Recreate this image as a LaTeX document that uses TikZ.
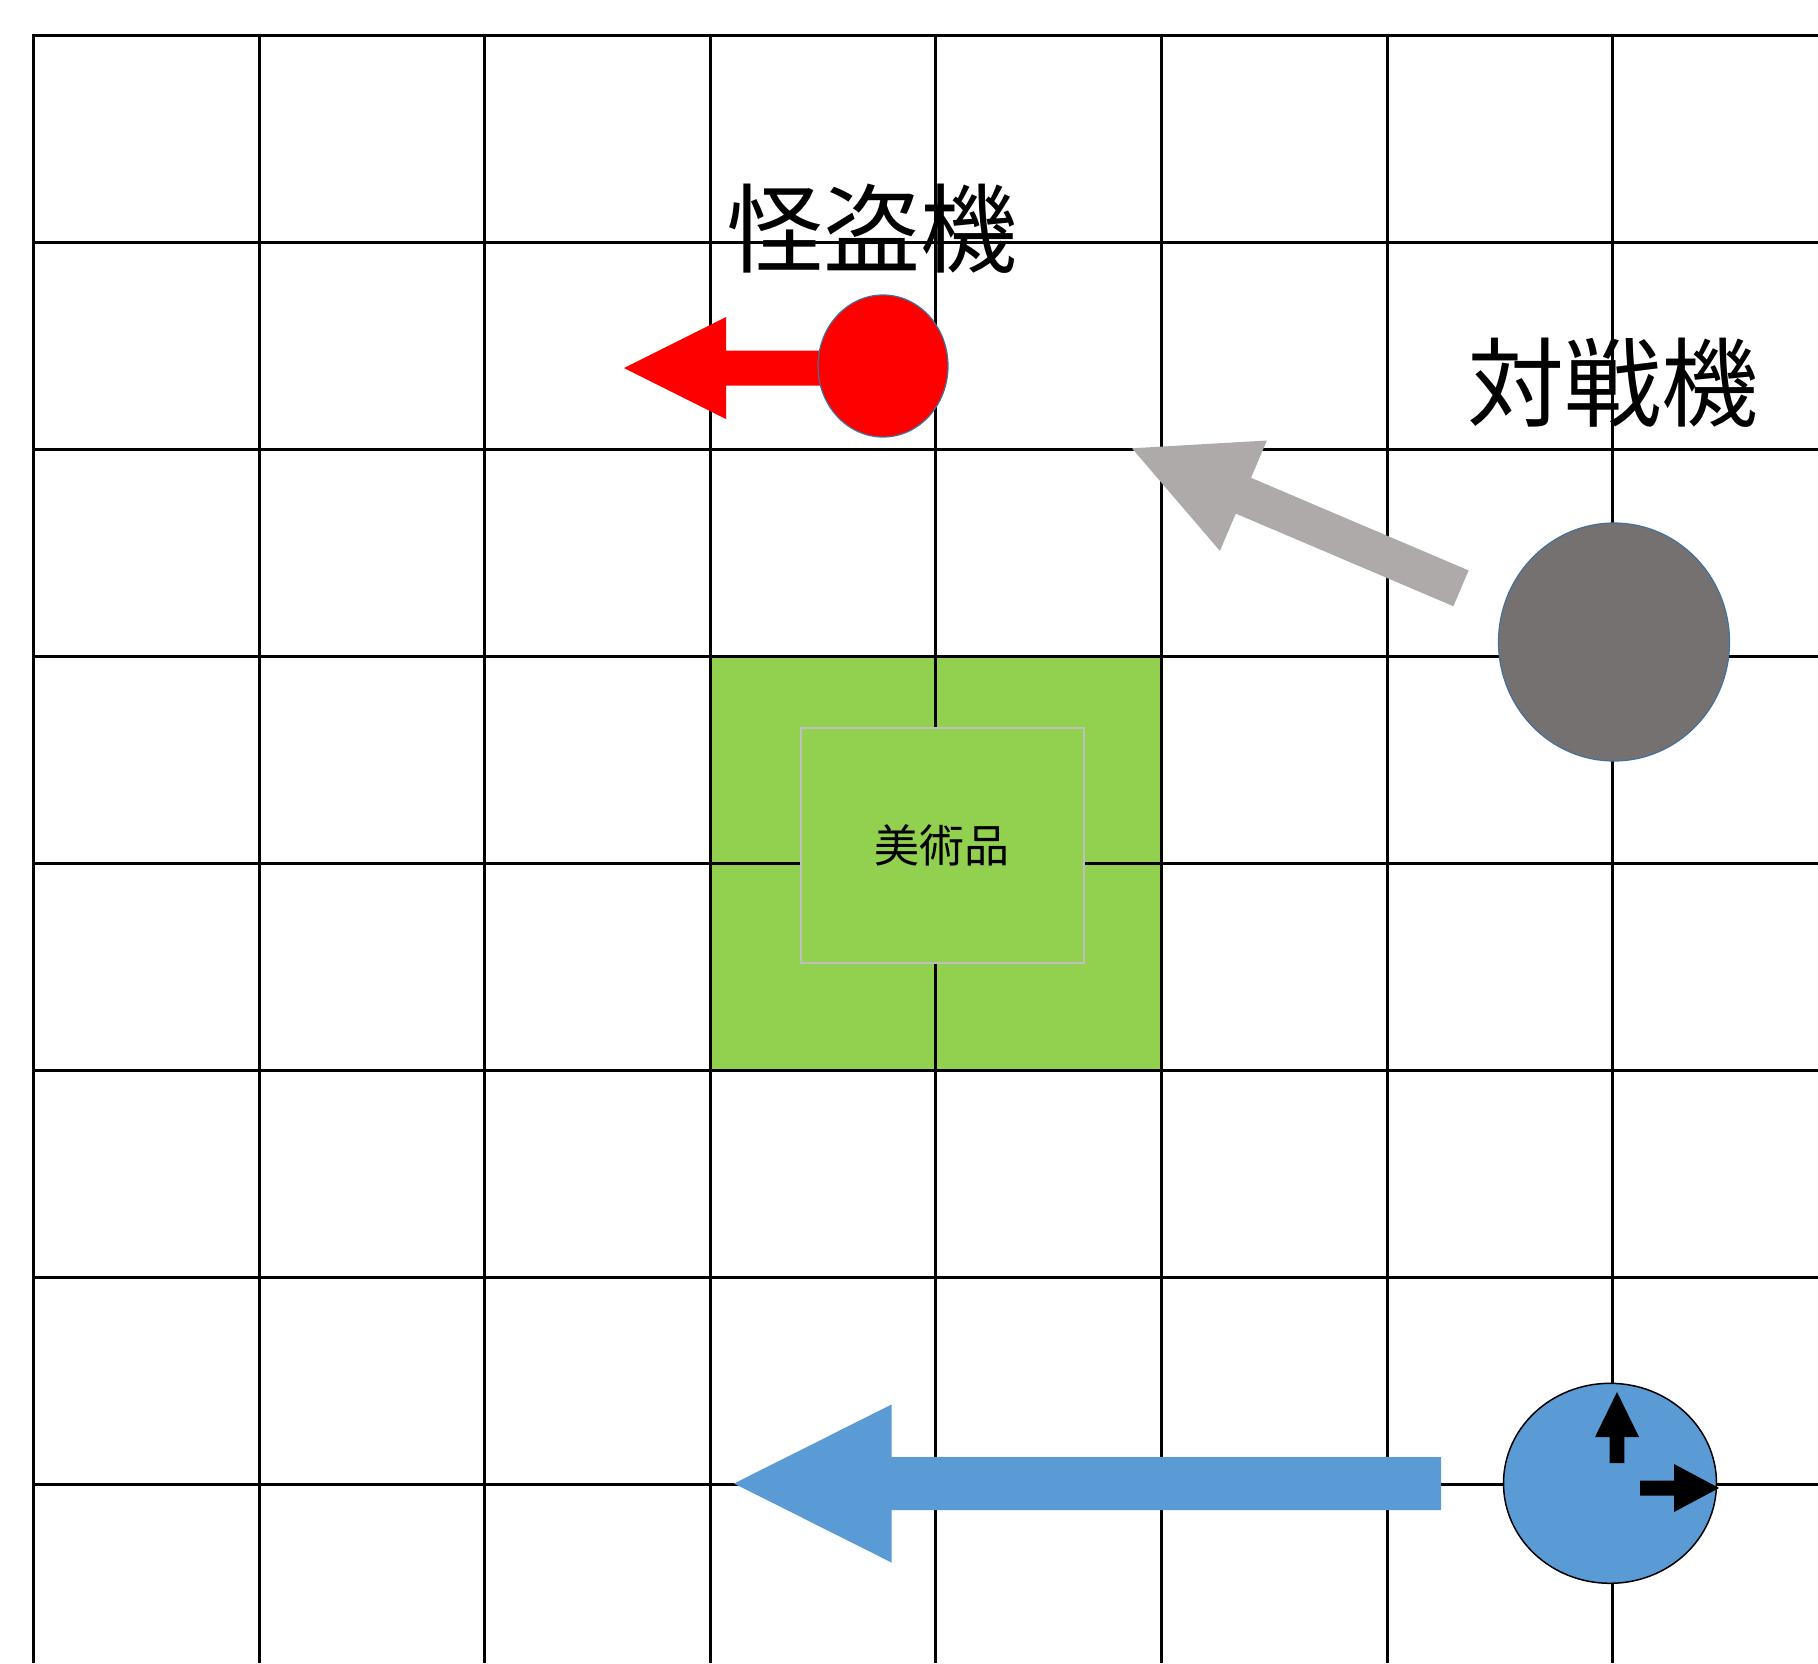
\documentclass[tikz,border=0pt]{standalone}
\usepackage{fontspec}
\newfontfamily\jp{Noto Sans CJK JP}
\usetikzlibrary{shapes.geometric}
\definecolor{grn}{HTML}{92D050}
\definecolor{boxgray}{HTML}{BFBFBF}
\definecolor{rimblue}{HTML}{41719C}
\definecolor{arrgray}{HTML}{AEAAAA}
\definecolor{dotgray}{HTML}{767171}
\definecolor{blu}{HTML}{5B9BD5}
\tikzset{
  gridline/.style={line width=3pt, black},
  token/.style={ellipse, inner sep=0pt, line width=1.2pt},
  biglabel/.style={inner sep=0pt, font=\fontsize{97}{97}\jp},
}
\begin{document}
\begin{tikzpicture}[x=1pt,y=-1pt]
\useasboundingbox (0,0) rectangle (1818,1663);
\fill[white] (0,0) rectangle (1818,1663);
% green area
\fill[grn] (710.3,656) rectangle (1161.5,1070);
% grid
\foreach \i in {0,...,7} \draw[gridline] (33.5+225.6*\i,35) -- (33.5+225.6*\i,1663);
\foreach \j in {0,...,7} \draw[gridline] (32,35+207*\j) -- (1818,35+207*\j);
% art box
\node[draw=boxgray, line width=2pt, fill=grn, minimum width=283pt, minimum height=235pt, inner sep=0pt] (art) at (942.4,845.6) {\fontsize{45}{45}\jp 美術品};
% red arrow and thief
\fill[red] (624,368) -- (726,317) -- (726,350.5) -- (840,350.5) -- (840,385.5) -- (726,385.5) -- (726,419) -- cycle;
\node[token, fill=red, draw=rimblue, minimum width=130pt, minimum height=142pt] (thief) at (883,366) {};
\node[biglabel] (thieflabel) at (872,229) {怪盗機};
% gray arrow and rival
\fill[arrgray] (1132,448.3) -- (1266.9,440.5) -- (1251.0,477.8) -- (1468.6,570.4) -- (1453.4,606.2) -- (1235.8,513.6) -- (1219.9,550.9) -- cycle;
\node[token, fill=dotgray, draw=rimblue, minimum width=231pt, minimum height=238pt] (rival) at (1614,642) {};
\node[biglabel] (rivallabel) at (1613,383) {対戦機};
% blue arrow and player
\fill[blu] (734,1483.5) -- (891.5,1404.5) -- (891.5,1457) -- (1441,1457) -- (1441,1510) -- (891.5,1510) -- (891.5,1562.5) -- cycle;
\node[token, fill=blu, draw=black, line width=1.5pt, minimum width=213pt, minimum height=200pt] (player) at (1610,1483.3) {};
% small arrows
\fill[black] (1617,1392) -- (1639,1437) -- (1624.3,1437) -- (1624.3,1463) -- (1609.7,1463) -- (1609.7,1437) -- (1595,1437) -- cycle;
\fill[black] (1719,1488) -- (1674,1512) -- (1674,1495.5) -- (1640,1495.5) -- (1640,1480.5) -- (1674,1480.5) -- (1674,1464) -- cycle;
\end{tikzpicture}
\end{document}
